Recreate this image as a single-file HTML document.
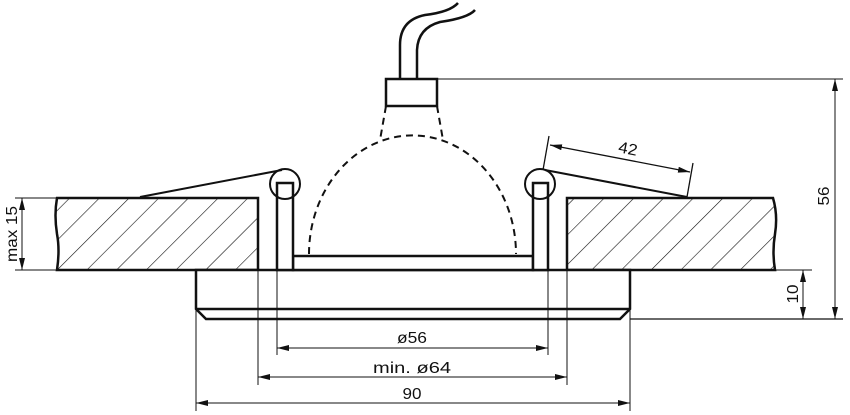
<!DOCTYPE html>
<html><head><style>html,body{margin:0;padding:0;background:#fff}svg{display:block}text{font-family:"Liberation Sans",sans-serif;fill:#111}</style></head>
<body>
<svg width="850" height="415" viewBox="0 0 850 415" xmlns="http://www.w3.org/2000/svg">
<defs>
<pattern id="h" patternUnits="userSpaceOnUse" width="21" height="21" patternTransform="rotate(45)">
<line x1="0" y1="0" x2="0" y2="21" stroke="#111" stroke-width="1.2"/>
</pattern>
<marker id="a" viewBox="0 0 12 6" refX="12" refY="3" markerWidth="12" markerHeight="6" orient="auto" markerUnits="userSpaceOnUse"><path d="M0,0 L12,3 L0,6 z" fill="#111"/></marker>
<marker id="b" viewBox="0 0 12 6" refX="0" refY="3" markerWidth="12" markerHeight="6" orient="auto" markerUnits="userSpaceOnUse"><path d="M12,0 L0,3 L12,6 z" fill="#111"/></marker>
</defs>
<g stroke="#111" fill="none">
<path d="M57,198 L258,198 L258,270 L57,270 Q60,250 57,234 Q54,215 57,198 Z" fill="url(#h)" stroke-width="2.5"/>
<path d="M567,198 L773,198 Q778,215 775,234 Q772,252 775,270 L567,270 Z" fill="url(#h)" stroke-width="2.5"/>
<path d="M196,270 L630,270 L630,309 L620,319 L206,319 L196,309 Z" fill="#fff" stroke-width="2.5"/>
<line x1="196" y1="309" x2="630" y2="309" stroke-width="2.5"/>
<rect x="293" y="256" width="240" height="14" stroke-width="2.5" fill="#fff"/>
<rect x="277" y="183" width="16" height="87" stroke-width="2.5" fill="#fff"/>
<rect x="533" y="183" width="15" height="87" stroke-width="2.5" fill="#fff"/>
<circle cx="285" cy="184" r="15" stroke-width="2"/>
<circle cx="540" cy="184" r="15" stroke-width="2"/>
<line x1="140" y1="197" x2="282" y2="170" stroke-width="2"/>
<line x1="545" y1="170" x2="687" y2="197" stroke-width="2"/>
<path d="M309,254 A103,118 0 0 1 516,254" stroke-width="2" stroke-dasharray="7,5"/>
<line x1="386" y1="106" x2="380" y2="140" stroke-width="2" stroke-dasharray="7,5"/>
<line x1="437" y1="106" x2="443" y2="140" stroke-width="2" stroke-dasharray="7,5"/>
<rect x="386" y="79" width="51" height="27" stroke-width="2.5" fill="#fff"/>
<path d="M400,79 L400,45 Q400,20 425,15 Q450,12 458,3" stroke-width="2.5"/>
<path d="M417,79 L417,50 Q418,28 440,22 Q468,18 475,10" stroke-width="2.5"/>
<line x1="543" y1="170" x2="549" y2="136" stroke-width="1.3"/>
<line x1="687" y1="197" x2="693" y2="163" stroke-width="1.3"/>
<line x1="550" y1="145" x2="690" y2="172" stroke-width="1.3" marker-start="url(#b)" marker-end="url(#a)"/>
<line x1="437" y1="79" x2="843" y2="79" stroke-width="1"/>
<line x1="630" y1="319" x2="843" y2="319" stroke-width="1.3"/>
<line x1="775" y1="270" x2="812" y2="270" stroke-width="1"/>
<line x1="835" y1="79" x2="835" y2="319" stroke-width="1" marker-start="url(#b)" marker-end="url(#a)"/>
<line x1="803" y1="270" x2="803" y2="319" stroke-width="1" marker-start="url(#b)" marker-end="url(#a)"/>
<line x1="15" y1="198" x2="57" y2="198" stroke-width="1"/>
<line x1="15" y1="270" x2="57" y2="270" stroke-width="1"/>
<line x1="22" y1="198" x2="22" y2="270" stroke-width="1" marker-start="url(#b)" marker-end="url(#a)"/>
<line x1="196" y1="309" x2="196" y2="411" stroke-width="1"/>
<line x1="630" y1="309" x2="630" y2="411" stroke-width="1"/>
<line x1="258" y1="270" x2="258" y2="385" stroke-width="1"/>
<line x1="567" y1="270" x2="567" y2="385" stroke-width="1"/>
<line x1="277" y1="270" x2="277" y2="355" stroke-width="1"/>
<line x1="548" y1="270" x2="548" y2="355" stroke-width="1"/>
<line x1="277" y1="348" x2="548" y2="348" stroke-width="1" marker-start="url(#b)" marker-end="url(#a)"/>
<line x1="258" y1="377" x2="567" y2="377" stroke-width="1" marker-start="url(#b)" marker-end="url(#a)"/>
<line x1="196" y1="403" x2="630" y2="403" stroke-width="1" marker-start="url(#b)" marker-end="url(#a)"/>
</g>
<g font-size="16">
<text x="412" y="343" text-anchor="middle" textLength="30" lengthAdjust="spacingAndGlyphs">ø56</text>
<text x="412" y="373" text-anchor="middle" textLength="78" lengthAdjust="spacingAndGlyphs">min. ø64</text>
<text x="412" y="399" text-anchor="middle" textLength="19" lengthAdjust="spacingAndGlyphs">90</text>
<text transform="translate(627,154) rotate(11)" text-anchor="middle" textLength="19" lengthAdjust="spacingAndGlyphs">42</text>
<text transform="translate(829,196) rotate(-90)" text-anchor="middle" textLength="19" lengthAdjust="spacingAndGlyphs">56</text>
<text transform="translate(798,294) rotate(-90)" text-anchor="middle" textLength="19" lengthAdjust="spacingAndGlyphs">10</text>
<text transform="translate(17,234) rotate(-90)" text-anchor="middle" textLength="56" lengthAdjust="spacingAndGlyphs">max 15</text>
</g>
</svg>
</body></html>
